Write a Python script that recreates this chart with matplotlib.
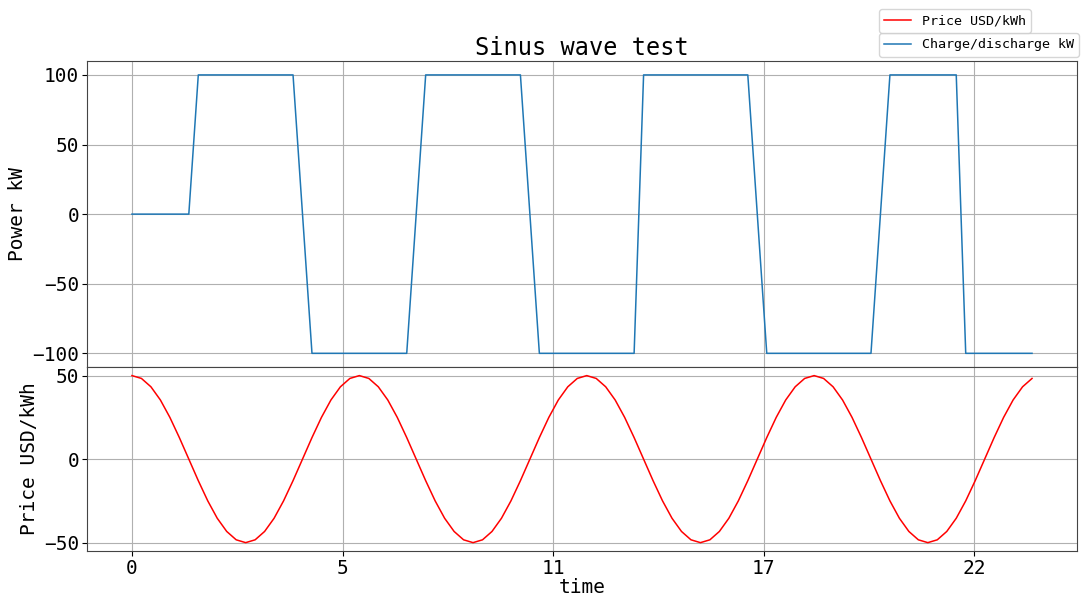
"""Plot battery charge/discharge schedule against a sinusoidal price signal."""
import matplotlib
matplotlib.use('Agg')
import matplotlib.pyplot as plt
import numpy as np

plt.rcParams['font.family'] = 'DejaVu Sans Mono'

# 15 minute resolution, one day
STEP_HOURS = 0.25

POWER_KW = [
    0, 0, 0, 0, 0, 0, 0,
    100, 100, 100, 100, 100, 100, 100, 100, 100, 100, 100,
    0,
    -100, -100, -100, -100, -100, -100, -100, -100, -100, -100, -100,
    0,
    100, 100, 100, 100, 100, 100, 100, 100, 100, 100, 100,
    0,
    -100, -100, -100, -100, -100, -100, -100, -100, -100, -100, -100,
    100, 100, 100, 100, 100, 100, 100, 100, 100, 100, 100, 100,
    0,
    -100, -100, -100, -100, -100, -100, -100, -100, -100, -100, -100, -100,
    0,
    100, 100, 100, 100, 100, 100, 100, 100,
    -100, -100, -100, -100, -100, -100, -100, -100,
]

PRICE_USD = [
    50.0, 48.3, 43.3, 35.4, 25.0, 12.9, 0.0, -12.9, -25.0, -35.4, -43.3, -48.3,
    -50.0, -48.3, -43.3, -35.4, -25.0, -12.9, 0.0, 12.9, 25.0, 35.4, 43.3, 48.3,
    50.0, 48.3, 43.3, 35.4, 25.0, 12.9, 0.0, -12.9, -25.0, -35.4, -43.3, -48.3,
    -50.0, -48.3, -43.3, -35.4, -25.0, -12.9, 0.0, 12.9, 25.0, 35.4, 43.3, 48.3,
    50.0, 48.3, 43.3, 35.4, 25.0, 12.9, 0.0, -12.9, -25.0, -35.4, -43.3, -48.3,
    -50.0, -48.3, -43.3, -35.4, -25.0, -12.9, 0.0, 12.9, 25.0, 35.4, 43.3, 48.3,
    50.0, 48.3, 43.3, 35.4, 25.0, 12.9, 0.0, -12.9, -25.0, -35.4, -43.3, -48.3,
    -50.0, -48.3, -43.3, -35.4, -25.0, -12.9, 0.0, 12.9, 25.0, 35.4, 43.3, 48.3,
]

XTICKS = [0, 5.56, 11.11, 16.67, 22.22]
XTICK_LABELS = ['0', '5', '11', '17', '22']


def main():
    time = np.arange(len(POWER_KW)) * STEP_HOURS

    fig, (ax_power, ax_price) = plt.subplots(
        2, 1, sharex=True, figsize=(10.83, 5.98), dpi=100,
        gridspec_kw={'height_ratios': [5, 3]})
    fig.subplots_adjust(left=0.0803, right=0.9945, top=0.898,
                        bottom=0.0786, hspace=0)

    # Battery power
    ax_power.plot(time, POWER_KW, color='#1f77b4', lw=1.1,
                  label='Charge/discharge kW')
    ax_power.set_ylabel('Power kW', fontsize=14)
    ax_power.set_title('Sinus wave test', fontsize=17, pad=4)
    ax_power.grid()

    # Price signal
    ax_price.plot(time, PRICE_USD, color='red', lw=1.1,
                  label='Price USD/kWh')
    ax_price.set_ylabel('Price USD/kWh', fontsize=14)
    ax_price.set_xlabel('time', fontsize=14, labelpad=0)
    ax_price.set_yticks([-50, 0, 50])
    ax_price.set_xticks(XTICKS)
    ax_price.set_xticklabels(XTICK_LABELS)
    ax_price.grid()

    for ax in (ax_power, ax_price):
        ax.tick_params(labelsize=14, pad=2)
        for spine in ax.spines.values():
            spine.set_color('#444444')

    ax_price.legend(loc='upper left', bbox_to_anchor=(0.8116, 0.985),
                    bbox_transform=fig.transFigure, borderaxespad=0,
                    fontsize=9.6)
    ax_power.legend(loc='upper left', bbox_to_anchor=(0.8116, 0.945),
                    bbox_transform=fig.transFigure, borderaxespad=0,
                    fontsize=9.6)

    fig.savefig('out.png', dpi=100)
    plt.close(fig)


if __name__ == '__main__':
    main()
